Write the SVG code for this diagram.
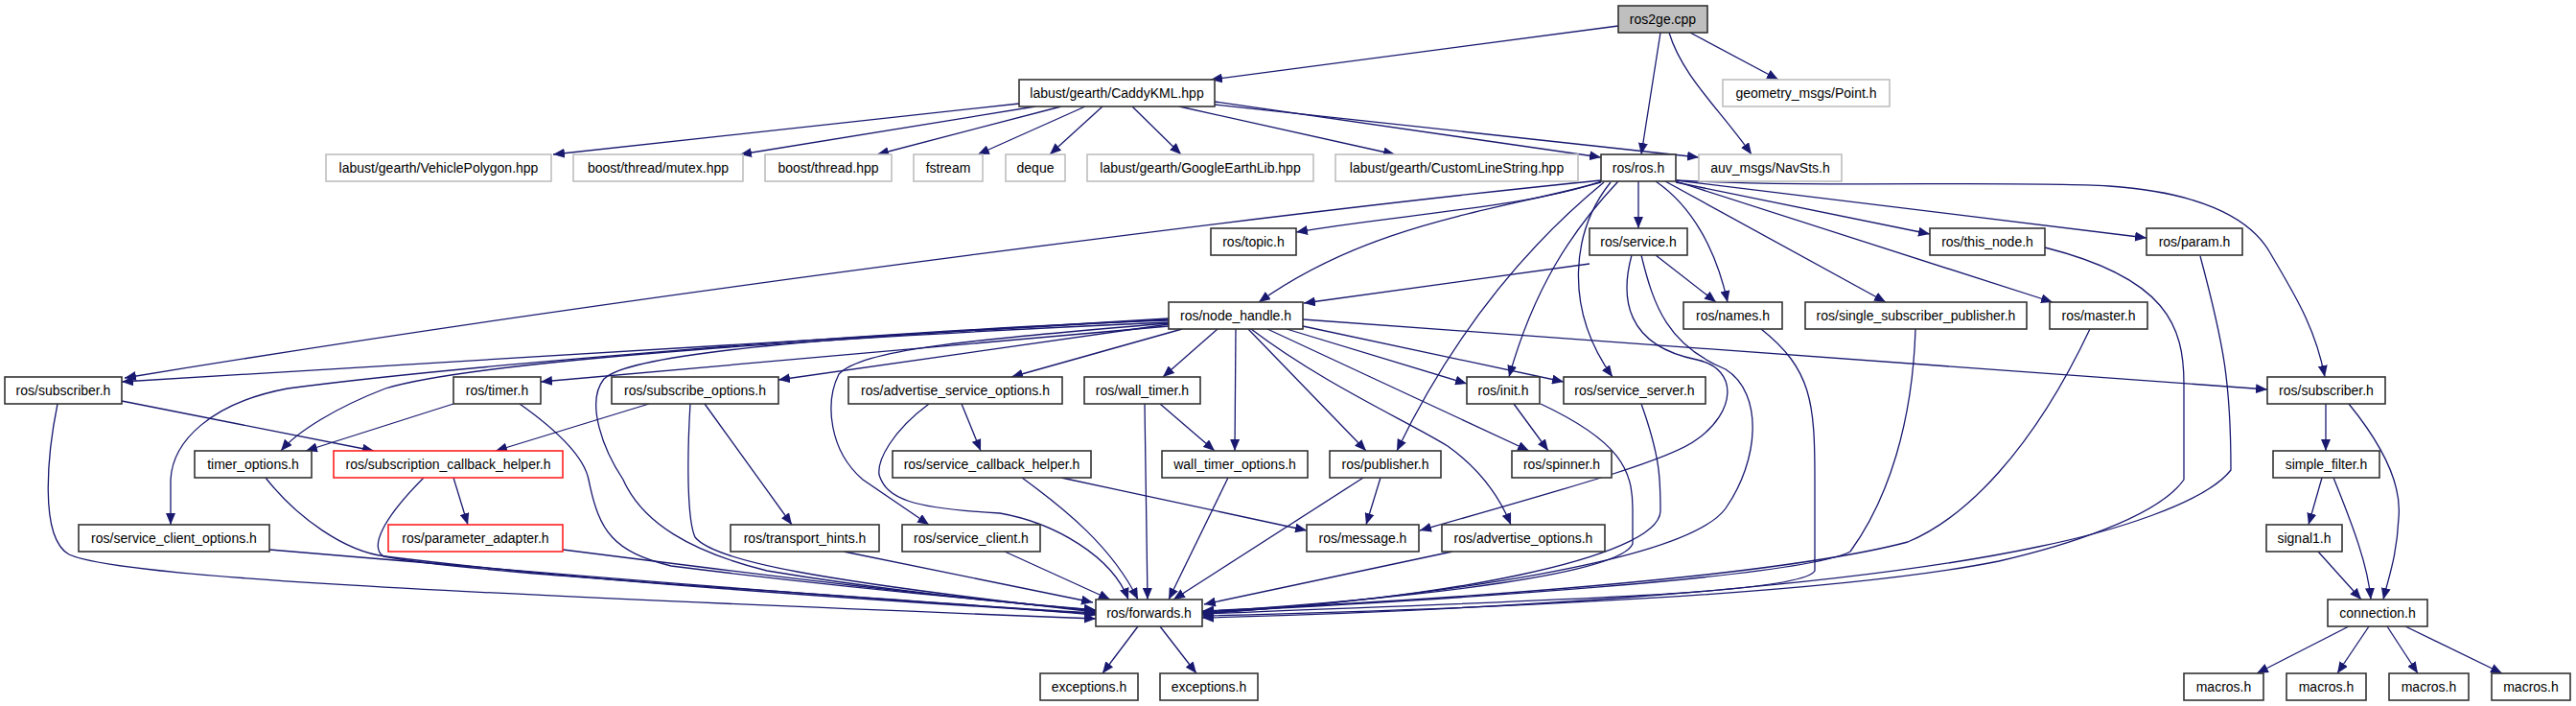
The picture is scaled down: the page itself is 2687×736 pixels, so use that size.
<svg xmlns="http://www.w3.org/2000/svg" width="2687" height="736" viewBox="0 0 2687 736">
<defs>
<marker id="a" markerUnits="userSpaceOnUse" markerWidth="12" markerHeight="10" refX="12" refY="5" orient="auto">
<path d="M0,0 L12,5 L0,10 z" fill="#191970"/>
</marker>
<style>
.nd rect{fill:#fff;stroke:#333;stroke-width:1.6}
.nd.g rect{stroke:#bfbfbf}
.nd.r rect{stroke:#ff2020}
.nd.root rect{fill:#bfbfbf;stroke:#333}
.nd text{font-family:"Liberation Sans",Arial,sans-serif;font-size:14px;text-anchor:middle;fill:#000}
#edges path{fill:none;stroke:#191970;stroke-width:1.3;marker-end:url(#a)}
</style>
</defs>
<rect width="2687" height="736" fill="#fff"/>
<g id="edges">
<path d="M1688,27 L1263,83"/>
<path d="M1732,34 L1712,161"/>
<path d="M1763,34 L1855,83"/>
<path d="M1741,34 C1755,80 1795,115 1827,161"/>
<path d="M1063,108 L577,161"/>
<path d="M1080,111 L772,161"/>
<path d="M1107,111 L915,161"/>
<path d="M1132,111 L1020,161"/>
<path d="M1150,111 L1095,161"/>
<path d="M1181,111 L1232,161"/>
<path d="M1230,111 L1455,161"/>
<path d="M1267,106 L1670,164"/>
<path d="M1267,109 L1772,164"/>
<path d="M1670,189 C1600,215 1450,225 1352,242"/>
<path d="M1670,190 C1560,220 1430,232 1313,315"/>
<path d="M1670,188 C1400,215 700,300 130,394"/>
<path d="M1709,189 L1709,238"/>
<path d="M1727,189 C1765,215 1790,260 1802,315"/>
<path d="M1737,189 L1967,315"/>
<path d="M1748,190 L2013,244"/>
<path d="M1748,189 L2141,315"/>
<path d="M1748,188 L2239,248"/>
<path d="M1748,188 C1900,196 2100,188 2200,194 C2290,200 2345,225 2367,262 C2392,305 2415,340 2425,393"/>
<path d="M1688,189 C1640,240 1600,300 1574,393"/>
<path d="M1680,190 C1640,240 1630,320 1682,393"/>
<path d="M1673,190 C1600,250 1520,340 1457,470"/>
<path d="M1658,275 L1360,316"/>
<path d="M1727,266 L1790,315"/>
<path d="M1702,266 C1690,310 1695,360 1770,375 C1815,385 1810,430 1770,458 C1745,478 1650,505 1481,553"/>
<path d="M1712,266 C1725,320 1740,360 1800,385 C1840,410 1835,480 1800,530 C1760,585 1500,622 1254,640"/>
<path d="M1837,343 C1890,385 1893,420 1893,500 L1893,595 C1880,620 1600,626 1254,640"/>
<path d="M1998,343 C1995,440 1970,520 1930,575 C1880,602 1500,626 1254,638"/>
<path d="M2180,343 C2120,470 2050,540 1990,565 C1850,602 1500,626 1254,637"/>
<path d="M2133,258 C2260,290 2278,340 2278,400 L2278,500 C2250,540 2150,570 2085,585 C1900,622 1500,636 1254,642"/>
<path d="M2295,267 C2320,360 2327,400 2327,490 C2300,525 2200,555 2126,570 C1900,618 1500,638 1254,644"/>
<path d="M1607,421 C1690,460 1703,490 1703,530 L1703,567 C1690,597 1500,622 1254,638"/>
<path d="M1712,421 C1732,477 1732,500 1732,533 C1730,582 1500,626 1254,639"/>
<path d="M1515,575 L1256,630"/>
<path d="M1359,333 L2365,406"/>
<path d="M1579,421 L1615,470"/>
<path d="M1322,343 L1595,470"/>
<path d="M1305,343 C1380,400 1470,440 1510,465 C1545,490 1565,520 1576,547"/>
<path d="M1302,343 L1425,470"/>
<path d="M1342,343 L1530,400"/>
<path d="M1359,340 L1631,398"/>
<path d="M1289,343 L1288,470"/>
<path d="M1270,343 L1213,393"/>
<path d="M1233,343 L1055,393"/>
<path d="M1219,338 L812,396"/>
<path d="M1219,340 L564,398"/>
<path d="M1219,332 L127,398"/>
<path d="M1219,336 C900,350 500,375 402,405 C350,425 310,450 293,470"/>
<path d="M1219,334 C900,345 450,385 300,405 C220,420 180,460 178,500 L178,547"/>
<path d="M1219,333 C900,350 660,365 630,395 C610,420 630,470 650,500 C670,545 720,575 800,595 C950,620 1080,630 1143,637"/>
<path d="M542,421 C590,455 610,480 614,500 C625,555 640,575 700,590 C900,615 1050,628 1143,636"/>
<path d="M720,421 C717,470 716,540 725,560 C745,585 850,605 1143,638"/>
<path d="M735,421 L826,547"/>
<path d="M677,421 L517,470"/>
<path d="M473,421 L319,470"/>
<path d="M127,418 L390,470"/>
<path d="M60,421 C50,470 40,560 72,578 C120,600 400,616 1143,645"/>
<path d="M277,498 C310,540 360,575 402,580 C600,605 900,625 1143,640"/>
<path d="M473,498 L488,547"/>
<path d="M442,498 C400,540 385,570 400,580 C500,600 900,620 1143,641"/>
<path d="M587,573 C800,600 1000,625 1143,636"/>
<path d="M281,573 C600,600 900,625 1143,639"/>
<path d="M880,575 L1140,628"/>
<path d="M1219,337 C1000,355 900,365 875,390 C860,420 865,470 900,500 L969,547"/>
<path d="M1003,421 L1023,470"/>
<path d="M969,421 C930,450 915,480 917,495 C925,520 950,530 1043,535 C1100,545 1160,580 1177,625"/>
<path d="M1048,575 L1158,625"/>
<path d="M1107,498 L1363,553"/>
<path d="M1066,498 C1110,530 1160,570 1187,625"/>
<path d="M1194,421 L1197,625"/>
<path d="M1210,421 L1267,470"/>
<path d="M1281,498 L1219,625"/>
<path d="M1440,498 L1425,547"/>
<path d="M1422,498 L1224,625"/>
<path d="M1187,653 L1150,702"/>
<path d="M1210,653 L1248,702"/>
<path d="M2426,421 L2426,470"/>
<path d="M2450,421 C2490,470 2505,510 2502,540 C2500,580 2492,600 2486,625"/>
<path d="M2422,498 L2408,547"/>
<path d="M2434,498 C2455,550 2470,590 2473,625"/>
<path d="M2418,575 L2463,625"/>
<path d="M2450,653 L2354,702"/>
<path d="M2471,653 L2438,702"/>
<path d="M2490,653 L2522,702"/>
<path d="M2509,653 L2610,702"/>
</g>
<g id="n0" class="nd root"><rect x="1688" y="6" width="93" height="28"/><text x="1734.5" y="25">ros2ge.cpp</text></g>
<g id="n1" class="nd"><rect x="1063" y="83" width="204" height="28"/><text x="1165" y="102">labust/gearth/CaddyKML.hpp</text></g>
<g id="n2" class="nd g"><rect x="1797" y="83" width="174" height="28"/><text x="1884" y="102">geometry_msgs/Point.h</text></g>
<g id="n3" class="nd g"><rect x="340" y="161" width="235" height="28"/><text x="457.5" y="180">labust/gearth/VehiclePolygon.hpp</text></g>
<g id="n4" class="nd g"><rect x="598" y="161" width="177" height="28"/><text x="686.5" y="180">boost/thread/mutex.hpp</text></g>
<g id="n5" class="nd g"><rect x="798" y="161" width="132" height="28"/><text x="864" y="180">boost/thread.hpp</text></g>
<g id="n6" class="nd g"><rect x="953" y="161" width="72" height="28"/><text x="989" y="180">fstream</text></g>
<g id="n7" class="nd g"><rect x="1049" y="161" width="62" height="28"/><text x="1080" y="180">deque</text></g>
<g id="n8" class="nd g"><rect x="1134" y="161" width="236" height="28"/><text x="1252" y="180">labust/gearth/GoogleEarthLib.hpp</text></g>
<g id="n9" class="nd g"><rect x="1393" y="161" width="253" height="28"/><text x="1519.5" y="180">labust/gearth/CustomLineString.hpp</text></g>
<g id="n10" class="nd"><rect x="1670" y="161" width="78" height="28"/><text x="1709" y="180">ros/ros.h</text></g>
<g id="n11" class="nd g"><rect x="1772" y="161" width="149" height="28"/><text x="1846.5" y="180">auv_msgs/NavSts.h</text></g>
<g id="n12" class="nd"><rect x="1263" y="238" width="89" height="28"/><text x="1307.5" y="257">ros/topic.h</text></g>
<g id="n13" class="nd"><rect x="1658" y="238" width="102" height="28"/><text x="1709" y="257">ros/service.h</text></g>
<g id="n14" class="nd"><rect x="2013" y="238" width="120" height="28"/><text x="2073" y="257">ros/this_node.h</text></g>
<g id="n15" class="nd"><rect x="2239" y="238" width="100" height="28"/><text x="2289" y="257">ros/param.h</text></g>
<g id="n16" class="nd"><rect x="1219" y="315" width="140" height="28"/><text x="1289" y="334">ros/node_handle.h</text></g>
<g id="n17" class="nd"><rect x="1756" y="315" width="103" height="28"/><text x="1807.5" y="334">ros/names.h</text></g>
<g id="n18" class="nd"><rect x="1883" y="315" width="231" height="28"/><text x="1998.5" y="334">ros/single_subscriber_publisher.h</text></g>
<g id="n19" class="nd"><rect x="2138" y="315" width="102" height="28"/><text x="2189" y="334">ros/master.h</text></g>
<g id="n20" class="nd"><rect x="5" y="393" width="122" height="28"/><text x="66" y="412">ros/subscriber.h</text></g>
<g id="n21" class="nd"><rect x="473" y="393" width="91" height="28"/><text x="518.5" y="412">ros/timer.h</text></g>
<g id="n22" class="nd"><rect x="638" y="393" width="174" height="28"/><text x="725" y="412">ros/subscribe_options.h</text></g>
<g id="n23" class="nd"><rect x="885" y="393" width="223" height="28"/><text x="996.5" y="412">ros/advertise_service_options.h</text></g>
<g id="n24" class="nd"><rect x="1131" y="393" width="121" height="28"/><text x="1191.5" y="412">ros/wall_timer.h</text></g>
<g id="n25" class="nd"><rect x="1530" y="393" width="76" height="28"/><text x="1568" y="412">ros/init.h</text></g>
<g id="n26" class="nd"><rect x="1631" y="393" width="148" height="28"/><text x="1705" y="412">ros/service_server.h</text></g>
<g id="n27" class="nd"><rect x="2365" y="393" width="123" height="28"/><text x="2426.5" y="412">ros/subscriber.h</text></g>
<g id="n28" class="nd"><rect x="203" y="470" width="122" height="28"/><text x="264" y="489">timer_options.h</text></g>
<g id="n29" class="nd r"><rect x="348" y="470" width="239" height="28"/><text x="467.5" y="489">ros/subscription_callback_helper.h</text></g>
<g id="n30" class="nd"><rect x="931" y="470" width="207" height="28"/><text x="1034.5" y="489">ros/service_callback_helper.h</text></g>
<g id="n31" class="nd"><rect x="1212" y="470" width="152" height="28"/><text x="1288" y="489">wall_timer_options.h</text></g>
<g id="n32" class="nd"><rect x="1387" y="470" width="116" height="28"/><text x="1445" y="489">ros/publisher.h</text></g>
<g id="n33" class="nd"><rect x="1577" y="470" width="104" height="28"/><text x="1629" y="489">ros/spinner.h</text></g>
<g id="n34" class="nd"><rect x="2371" y="470" width="111" height="28"/><text x="2426.5" y="489">simple_filter.h</text></g>
<g id="n35" class="nd"><rect x="82" y="547" width="199" height="28"/><text x="181.5" y="566">ros/service_client_options.h</text></g>
<g id="n36" class="nd r"><rect x="405" y="547" width="182" height="28"/><text x="496" y="566">ros/parameter_adapter.h</text></g>
<g id="n37" class="nd"><rect x="762" y="547" width="155" height="28"/><text x="839.5" y="566">ros/transport_hints.h</text></g>
<g id="n38" class="nd"><rect x="941" y="547" width="144" height="28"/><text x="1013" y="566">ros/service_client.h</text></g>
<g id="n39" class="nd"><rect x="1363" y="547" width="117" height="28"/><text x="1421.5" y="566">ros/message.h</text></g>
<g id="n40" class="nd"><rect x="1504" y="547" width="170" height="28"/><text x="1589" y="566">ros/advertise_options.h</text></g>
<g id="n41" class="nd"><rect x="2364" y="547" width="79" height="28"/><text x="2403.5" y="566">signal1.h</text></g>
<g id="n42" class="nd"><rect x="1143" y="625" width="111" height="28"/><text x="1198.5" y="644">ros/forwards.h</text></g>
<g id="n43" class="nd"><rect x="2428" y="625" width="104" height="28"/><text x="2480" y="644">connection.h</text></g>
<g id="n44" class="nd"><rect x="1085" y="702" width="102" height="28"/><text x="1136" y="721">exceptions.h</text></g>
<g id="n45" class="nd"><rect x="1210" y="702" width="102" height="28"/><text x="1261" y="721">exceptions.h</text></g>
<g id="n46" class="nd"><rect x="2278" y="702" width="83" height="28"/><text x="2319.5" y="721">macros.h</text></g>
<g id="n47" class="nd"><rect x="2385" y="702" width="83" height="28"/><text x="2426.5" y="721">macros.h</text></g>
<g id="n48" class="nd"><rect x="2492" y="702" width="83" height="28"/><text x="2533.5" y="721">macros.h</text></g>
<g id="n49" class="nd"><rect x="2599" y="702" width="82" height="28"/><text x="2640" y="721">macros.h</text></g>
</svg>
